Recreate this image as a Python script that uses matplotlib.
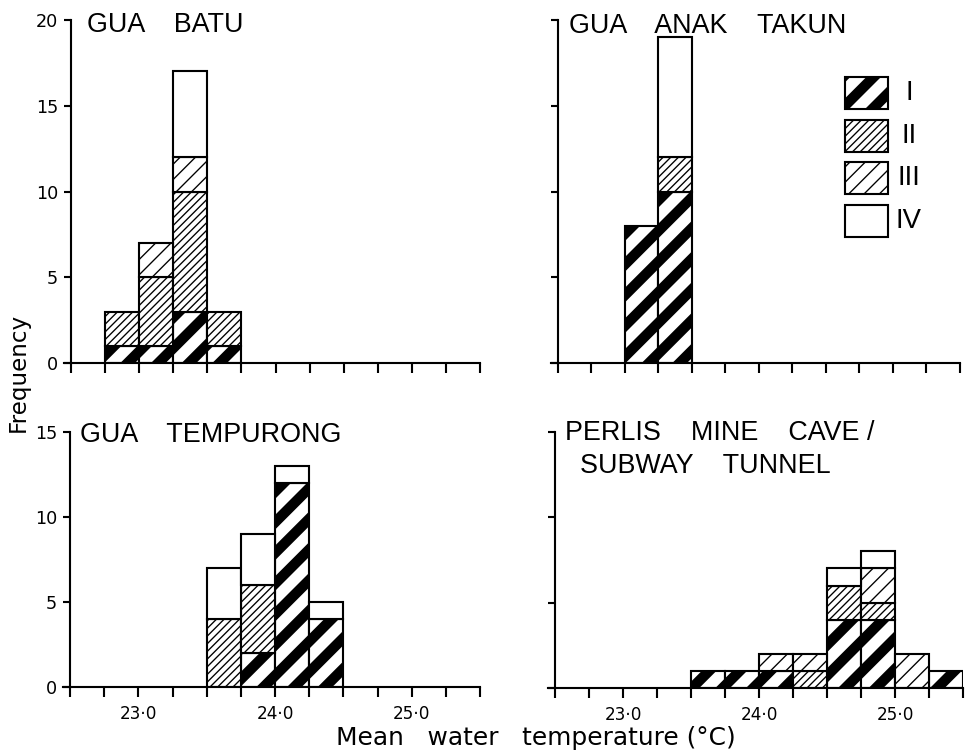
import matplotlib
matplotlib.use("Agg")
import matplotlib.pyplot as plt
from matplotlib.patches import Rectangle
import numpy as np

# histogram bins are 0.25 degC wide, left edges listed per cave
batu_bins = [22.75, 23.0, 23.25, 23.5]
batu_I = [1, 1, 3, 1]
batu_II = [2, 4, 7, 2]
batu_III = [0, 2, 2, 0]
batu_IV = [0, 0, 5, 0]

takun_bins = [23.0, 23.25]
takun_I = [8, 10]
takun_II = [0, 2]
takun_III = [0, 0]
takun_IV = [0, 7]

tempurong_bins = [23.5, 23.75, 24.0, 24.25]
tempurong_I = [0, 2, 12, 4]
tempurong_II = [4, 4, 0, 0]
tempurong_III = [0, 0, 0, 0]
tempurong_IV = [3, 3, 1, 1]

perlis_bins = [23.5, 23.75, 24.0, 24.25, 24.5, 24.75, 25.0, 25.25]
perlis_I = [1, 1, 1, 0, 4, 4, 0, 1]
perlis_II = [0, 0, 0, 1, 2, 1, 0, 0]
perlis_III = [0, 0, 1, 1, 0, 2, 2, 0]
perlis_IV = [0, 0, 0, 0, 1, 1, 0, 0]

classes = ["I", "II", "III", "IV"]
xtick_labels = {23.0: "23\u00b70", 24.0: "24\u00b70", 25.0: "25\u00b70"}

DPI = 276
BIN_W = 0.25
EDGE_LW = 0.55

# hatch, hatch linewidth for each class (at 276 dpi one '/' repeats every 92 px)
styles = {
    "I": ("///", 2.7),
    "II": ("////////////", 0.35),
    "III": ("//////", 0.35),
    "IV": ("", 0.35),
}

plt.rcParams['font.family'] = ['Liberation Sans', 'DejaVu Sans']


def styled(patch, cls):
    hatch, hlw = styles[cls]
    patch.set_hatch(hatch)
    patch.set_hatch_linewidth(hlw)
    return patch


def stacked(ax, bins, counts):
    bottom = np.zeros(len(bins))
    for cls, vals in zip(classes, counts):
        vals = np.array(vals, dtype=float)
        bars = ax.bar(bins, vals, width=BIN_W, bottom=bottom, align='edge',
                      facecolor='white', edgecolor='black', linewidth=EDGE_LW)
        for b, v in zip(bars, vals):
            if v == 0:
                b.set_visible(False)
            styled(b, cls)
        bottom += vals


def setup(ax, ymax, show_x, show_y):
    ax.set_xlim(22.45, 25.5)
    ax.set_ylim(0, ymax)
    for s in ['top', 'right']:
        ax.spines[s].set_visible(False)
    ax.spines['left'].set_position(('data', 22.5))
    for s in ['left', 'bottom']:
        ax.spines[s].set_linewidth(0.55)
    xt = np.arange(22.5, 25.51, 0.25)
    ax.set_xticks(xt)
    ax.set_xticklabels([xtick_labels.get(round(v, 2), "") if show_x else "" for v in xt])
    yt = np.arange(0, ymax + 1, 5)
    ax.set_yticks(yt)
    ax.set_yticklabels([str(int(v)) if show_y else "" for v in yt])
    ax.tick_params(axis='x', direction='out', length=2.6, width=0.55, pad=2.2, labelsize=4.4)
    ax.tick_params(axis='y', direction='out', length=1.9, width=0.55, pad=1.5, labelsize=4.6)
    for lab in ax.get_xticklabels() + ax.get_yticklabels():
        lab.set_family('DejaVu Sans')


fig = plt.figure(figsize=(967 / DPI, 751 / DPI), dpi=DPI)
fig.patch.set_facecolor('white')

ax1 = fig.add_axes([0.0664, 0.5166, 0.430, 0.4567])
ax2 = fig.add_axes([0.5701, 0.5166, 0.4226, 0.4567])
ax3 = fig.add_axes([0.0654, 0.0852, 0.431, 0.3395])
ax4 = fig.add_axes([0.5669, 0.0839, 0.4290, 0.341])

stacked(ax1, batu_bins, [batu_I, batu_II, batu_III, batu_IV])
stacked(ax2, takun_bins, [takun_I, takun_II, takun_III, takun_IV])
stacked(ax3, tempurong_bins, [tempurong_I, tempurong_II, tempurong_III, tempurong_IV])
stacked(ax4, perlis_bins, [perlis_I, perlis_II, perlis_III, perlis_IV])

setup(ax1, 20, False, True)
setup(ax2, 20, False, False)
setup(ax3, 15, True, True)
setup(ax4, 15, True, False)

tkw = dict(fontsize=7.0, va='baseline', ha='left')
ax1.text(0.055, 0.965, "GUA    BATU", transform=ax1.transAxes, **tkw)
ax2.text(0.043, 0.962, "GUA    ANAK    TAKUN", transform=ax2.transAxes, **tkw)
ax3.text(0.040, 0.961, "GUA    TEMPURONG", transform=ax3.transAxes, **tkw)
ax4.text(0.040, 0.969, "PERLIS    MINE    CAVE /", transform=ax4.transAxes, **tkw)
ax4.text(0.077, 0.840, "SUBWAY    TUNNEL", transform=ax4.transAxes, **tkw)

# legend boxes drawn by hand in the upper right panel
box_bottoms = [0.7405, 0.6152, 0.4927, 0.3673]
for cls, yb in zip(classes, box_bottoms):
    r = Rectangle((0.7186, yb), 0.1052, 0.0933, transform=ax2.transAxes,
                  facecolor='white', edgecolor='black', linewidth=EDGE_LW,
                  clip_on=False)
    styled(r, cls)
    ax2.add_patch(r)
    ax2.text(0.875, yb + 0.0466, cls, transform=ax2.transAxes, fontsize=7.2,
             ha='center', va='center')

fig.text(18 / 967, 1 - 372 / 751, "Frequency", rotation=90, ha='center', va='center',
         fontsize=6.0, family='DejaVu Sans')
fig.text(536 / 967, 1 - 745 / 751, "Mean   water   temperature (\u00b0C)", ha='center',
         va='baseline', fontsize=6.5, family='DejaVu Sans')

fig.savefig("out.png", dpi=DPI, facecolor='white')
